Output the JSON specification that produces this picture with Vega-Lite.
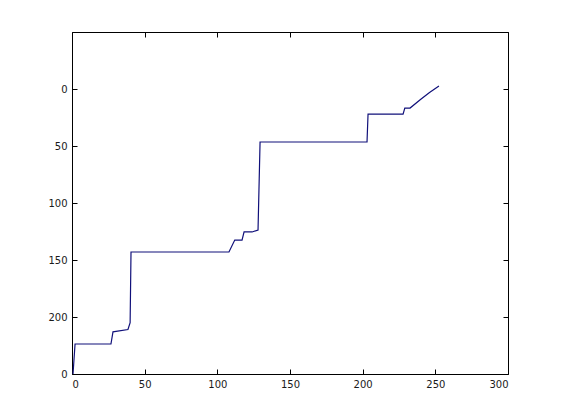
{
  "$schema": "https://vega.github.io/schema/vega-lite/v6.json",
  "autosize": "none",
  "width": 436,
  "height": 342,
  "padding": {"left": 72, "top": 32, "right": 53, "bottom": 46},
  "background": "white",
  "config": {
    "view": {"stroke": "black", "strokeWidth": 1},
    "axis": {
      "domain": false,
      "grid": false,
      "title": null,
      "labelColor": "#1a1a1a",
      "labelFont": "DejaVu Sans",
      "labelFontSize": 10
    }
  },
  "data": {
    "values": [
      {"i": 0, "x": 0.7, "y": 250},
      {"i": 1, "x": 2.1, "y": 223.7},
      {"i": 2, "x": 26.8, "y": 223.7},
      {"i": 3, "x": 28.2, "y": 213},
      {"i": 4, "x": 38.5, "y": 211},
      {"i": 5, "x": 40.0, "y": 205},
      {"i": 6, "x": 40.6, "y": 143},
      {"i": 7, "x": 108, "y": 143},
      {"i": 8, "x": 112, "y": 132.5},
      {"i": 9, "x": 117, "y": 132.5},
      {"i": 10, "x": 118.4, "y": 125.4},
      {"i": 11, "x": 123.9, "y": 125.4},
      {"i": 12, "x": 128, "y": 123.7},
      {"i": 13, "x": 129.4, "y": 46.5},
      {"i": 14, "x": 203, "y": 46.5},
      {"i": 15, "x": 203.7, "y": 22},
      {"i": 16, "x": 227.8, "y": 22},
      {"i": 17, "x": 229, "y": 16.7},
      {"i": 18, "x": 232.6, "y": 16.7},
      {"i": 19, "x": 240, "y": 9},
      {"i": 20, "x": 246, "y": 3},
      {"i": 21, "x": 252.5, "y": -2.6}
    ]
  },
  "layer": [
    {
      "mark": {"type": "line", "color": "#10107a", "strokeWidth": 1.2},
      "encoding": {
        "x": {"field": "x", "type": "quantitative", "scale": {"domain": [0, 300], "nice": false, "zero": false},
          "axis": {"orient": "bottom", "values": [0, 50, 100, 150, 200, 250, 300], "ticks": true, "tickSize": 5, "tickColor": "black", "tickWidth": 1, "offset": -5, "labelPadding": 5}},
        "y": {"field": "y", "type": "quantitative", "scale": {"domain": [-50, 250], "reverse": true, "nice": false, "zero": false},
          "axis": {"orient": "left", "values": [-50, 0, 50, 100, 150, 200, 250], "ticks": true, "tickSize": 5, "tickColor": "black", "tickWidth": 1, "offset": -5, "labelPadding": 5,
            "labelExpr": "datum.value == 250 ? '0' : datum.value == -50 ? '' : datum.label"}},
        "order": {"field": "i", "type": "quantitative"}
      }
    },
    {
      "mark": {"type": "line", "opacity": 0},
      "encoding": {
        "x": {"field": "x", "type": "quantitative",
          "axis": {"orient": "top", "values": [0, 50, 100, 150, 200, 250, 300], "labels": false, "ticks": true, "tickSize": 5, "tickColor": "black", "tickWidth": 1, "offset": -5}},
        "y": {"field": "y", "type": "quantitative",
          "axis": {"orient": "right", "values": [-50, 0, 50, 100, 150, 200, 250], "labels": false, "ticks": true, "tickSize": 5, "tickColor": "black", "tickWidth": 1, "offset": -5}},
        "order": {"field": "i", "type": "quantitative"}
      }
    }
  ],
  "resolve": {"axis": {"x": "independent", "y": "independent"}}
}
